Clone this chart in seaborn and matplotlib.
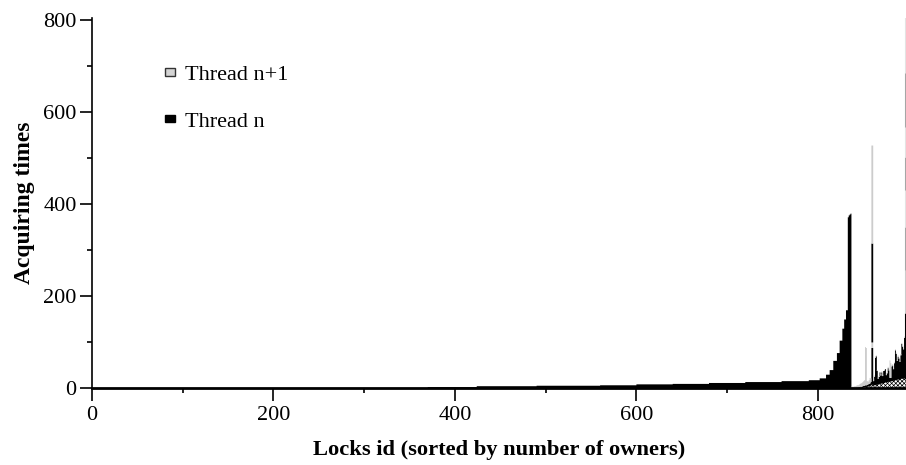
import numpy as np
import pandas as pd
import matplotlib
matplotlib.use("Agg")
import matplotlib.pyplot as plt
from matplotlib.patches import Patch
from matplotlib.ticker import MultipleLocator
import seaborn as sns

# Locks owned by a single thread, sorted: acquiring-time value and how many locks share it
solo_values = [1, 3, 5, 6, 7, 9, 10, 12, 14, 16, 18, 22, 30, 40, 60, 77, 104, 130, 150, 170,
               372, 376, 378, 380]
solo_counts = [370, 54, 66, 70, 40, 40, 40, 40, 40, 30, 12, 7, 4, 4, 4, 3, 3, 2, 2, 2,
               1, 1, 1, 1]

# Locks shared by several threads (ids 837..897)
tail_start = 837
tail_mixed = [0, 0, 0, 0, 0, 1, 1, 1, 1, 2, 2, 2, 2, 3, 3, 3, 3, 4, 4, 5,
              5, 6, 8, 8, 6, 7, 7, 8, 8, 9, 9, 10, 10, 11, 11, 12, 12, 13, 13, 14,
              14, 15, 15, 15, 16, 16, 17, 17, 18, 18, 19, 19, 20, 20, 21, 21, 21, 22, 22, 20,
              20]
tail_n = [1, 1, 1, 1, 1, 1, 1, 1, 2, 2, 2, 2, 3, 3, 3, 4, 4, 4, 5, 5,
          6, 8, 80, 80, 10, 18, 60, 62, 30, 12, 16, 25, 18, 24, 16, 26, 27, 29, 16, 19,
          30, 24, 8, 8, 32, 34, 25, 38, 65, 57, 41, 50, 45, 38, 51, 76, 70, 63, 88, 143,
          143]
tail_n1 = [3, 3, 3, 4, 4, 4, 5, 5, 5, 6, 7, 8, 9, 10, 12, 83, 81, 8, 6, 8,
           12, 8, 12, 12, 4, 3, 3, 2, 2, 3, 2, 0, 3, 2, 3, 0, 2, 0, 3, 2,
           3, 2, 38, 32, 2, 3, 2, 3, 2, 3, 2, 3, 2, 2, 3, 2, 3, 2, 3, 93,
           93]

# Two heavily shared locks with four owners
spike_locks = [859, 860]
spike_n2 = [215, 215]
spike_n3 = [213, 213]

# Last locks: further owners stacked on top, bottom to top
edge_locks = [896, 897]
edge_segments = [94, 80, 72, 65, 118, 121]

layer_names = ["mixed", "n", "n+1", "n+2", "n+3"] + [f"n+{k}" for k in range(4, 4 + len(edge_segments))]
layer_colors = ["white", "black", "#cccccc", "black", "#cccccc"] + \
    ["#a6a6a6" if k % 2 == 0 else "#e3e3e3" for k in range(len(edge_segments))]

rows = []
solo = np.repeat(solo_values, solo_counts)
for lock, v in enumerate(solo):
    rows.append((lock, "n", v))
for i, (m, a, b) in enumerate(zip(tail_mixed, tail_n, tail_n1)):
    lock = tail_start + i
    rows.append((lock, "mixed", m))
    rows.append((lock, "n", a))
    rows.append((lock, "n+1", b))
for lock, a, b in zip(spike_locks, spike_n2, spike_n3):
    rows.append((lock, "n+2", a))
    rows.append((lock, "n+3", b))
for lock in edge_locks:
    for name, v in zip(layer_names[5:], edge_segments):
        rows.append((lock, name, v))
df = pd.DataFrame(rows, columns=["lock", "layer", "times"])

sns.set_theme(style="ticks")
plt.rcParams["font.family"] = ["Liberation Serif", "DejaVu Serif"]
plt.rcParams["hatch.linewidth"] = 0.5
plt.rcParams["text.color"] = "black"
plt.rcParams["axes.labelcolor"] = "black"

fig = plt.figure(figsize=(9.06, 4.65), dpi=100)
ax = fig.add_axes([92 / 906, 1 - 388 / 465, 1 - 92 / 906, (388 - 18) / 465])

# seaborn stacks the first hue level on top, so list layers top to bottom
order = layer_names[::-1]
palette = dict(zip(layer_names, layer_colors))
sns.histplot(data=df, x="lock", weights="times", hue="layer", hue_order=order,
             multiple="stack", discrete=True, element="step", fill=True,
             palette=palette, alpha=1, linewidth=0, legend=False, ax=ax)

for coll in ax.collections:
    fc = coll.get_facecolor()
    if len(fc) and np.allclose(fc[0][:3], 1.0):
        coll.set_hatch("xxxxxxxx")
        coll.set_edgecolor("black")
        coll.set_linewidth(0)

ax.set_xlim(0, 897.2)
ax.set_ylim(0, 804)
ax.xaxis.set_major_locator(MultipleLocator(200))
ax.xaxis.set_minor_locator(MultipleLocator(100))
ax.yaxis.set_major_locator(MultipleLocator(200))
ax.yaxis.set_minor_locator(MultipleLocator(100))
ax.tick_params(which="major", direction="out", length=9, width=1.2, labelsize=16, color="black",
               labelcolor="black", pad=2)
ax.tick_params(axis="x", which="major", pad=4)
ax.tick_params(which="minor", direction="out", length=3.5, width=1.2, color="black")
sns.despine(ax=ax)
ax.spines["left"].set_linewidth(1.2)
ax.spines["bottom"].set_linewidth(2.0)
for s in ("left", "bottom"):
    ax.spines[s].set_color("black")

ax.set_xlabel("Locks id (sorted by number of owners)", fontsize=16.2, fontweight="bold", labelpad=11)
ax.set_ylabel("Acquiring times", fontsize=17, fontweight="bold", labelpad=6)

handles = [Patch(facecolor="#d4d4d4", edgecolor="#333333", linewidth=1.0),
           Patch(facecolor="black", edgecolor="black", linewidth=1.0)]
fig.legend(handles, ["Thread n+1", "Thread n"], loc="upper left",
           bbox_to_anchor=(145 / 906, 1 - 46 / 465), frameon=False, fontsize=16,
           handlelength=0.45, handleheight=0.15, handletextpad=0.45, labelspacing=1.25)

fig.savefig("out.png", dpi=100)
